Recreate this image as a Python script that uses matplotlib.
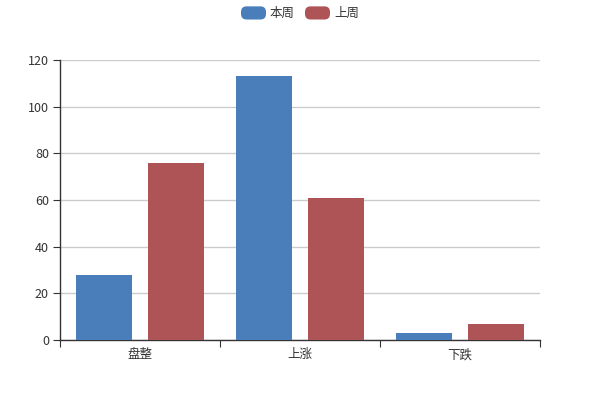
import matplotlib
matplotlib.use("Agg")
import matplotlib.pyplot as plt
import numpy as np
from matplotlib.patches import FancyBboxPatch, Patch
from matplotlib.legend_handler import HandlerPatch

plt.rcParams['font.family'] = ['Noto Sans CJK SC', 'DejaVu Sans']

categories = ['盘整', '上涨', '下跌']
this_week = [28, 113, 3]
last_week = [76, 61, 7]
series_names = ['本周', '上周']
colors = ['#4a7ebb', '#ae5457']
yticks = [0, 20, 40, 60, 80, 100, 120]

fig = plt.figure(figsize=(6, 4), dpi=100)
ax = fig.add_axes([0.1, 0.15, 0.8, 0.7])

x = np.arange(len(categories))
w = 0.35
ax.bar(x - 0.228, this_week, width=w, color=colors[0], zorder=3)
ax.bar(x + 0.225, last_week, width=w, color=colors[1], zorder=3)

ax.set_xlim(-0.5, len(categories) - 0.5)
ax.set_ylim(0, 120)
ax.set_yticks(yticks)
ax.yaxis.grid(True, color='#cccccc', linewidth=1, zorder=0)
ax.set_xticks(np.arange(len(categories) + 1) - 0.5)
ax.set_xticklabels([])
ax.set_xticks(x, minor=True)
ax.set_xticklabels(categories, minor=True)
ax.tick_params(axis='x', which='major', length=5, color='#333333', direction='out')
ax.tick_params(axis='x', which='minor', length=0, labelsize=9, labelcolor='#333333', pad=6)
ax.tick_params(axis='y', length=5, color='#333333', labelsize=9, labelcolor='#333333', pad=3)
for s in ['top', 'right']:
    ax.spines[s].set_visible(False)
for s in ['left', 'bottom']:
    ax.spines[s].set_color('#333333')
    ax.spines[s].set_linewidth(1)


class RoundHandler(HandlerPatch):
    def create_artists(self, legend, orig_handle, xdescent, ydescent, width, height, fontsize, trans):
        p = FancyBboxPatch((-xdescent, -ydescent - 1), width, height + 2,
                           boxstyle="round,pad=0,rounding_size=4",
                           facecolor=orig_handle.get_facecolor(), edgecolor='none',
                           transform=trans)
        return [p]


handles = [Patch(facecolor=c) for c in colors]
fig.legend(handles, series_names, loc='upper center', bbox_to_anchor=(0.5, 1.01),
           ncol=2, frameon=False, fontsize=9, handlelength=2.0, handleheight=0.9,
           columnspacing=0.8, handletextpad=0.32, labelcolor='#333333',
           handler_map={Patch: RoundHandler()})

fig.savefig('out.png', dpi=100)
